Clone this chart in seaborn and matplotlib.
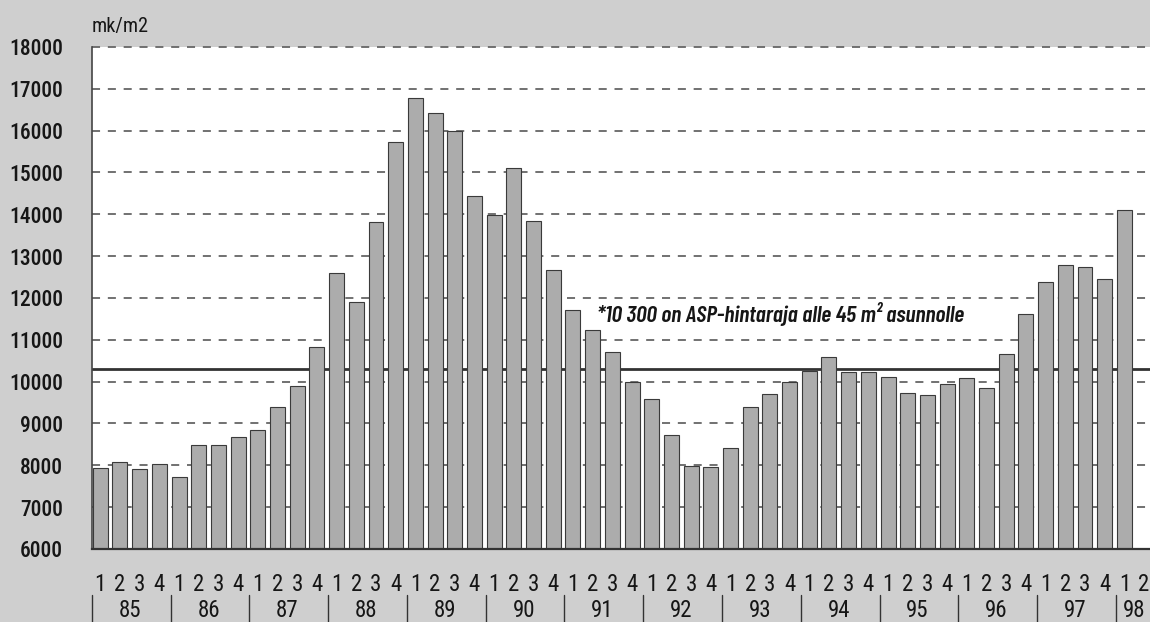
import matplotlib
matplotlib.use("Agg")
import matplotlib.pyplot as plt
from matplotlib import font_manager
import seaborn as sns
import pandas as pd

# ---- data ----
years = ["85", "86", "87", "88", "89", "90", "91", "92", "93", "94", "95", "96", "97", "98"]
quarter_labels = ["1", "2", "3", "4"] * 13 + ["1", "2"]
prices = [7930, 8070, 7900, 8040,
          7730, 8490, 8490, 8680,
          8840, 9390, 9890, 10830,
          12590, 11910, 13820, 15740,
          16790, 16420, 15980, 14440,
          13990, 15100, 13840, 12670,
          11710, 11240, 10720, 9990,
          9590, 8730, 7980, 7960,
          8410, 9390, 9700, 9980,
          10260, 10580, 10220, 10220,
          10100, 9720, 9680, 9940,
          10080, 9850, 10660, 11620,
          12380, 12780, 12750, 12450,
          14100]
asp_limit = 10300
y_ticks = list(range(6000, 18001, 1000))
unit_label = "mk/m2"
note_text = "*10 300 on ASP-hintaraja alle 45 m² asunnolle"

# ---- fonts ----
names = {f.name for f in font_manager.fontManager.ttflist}
def pick(*cands):
    for c in cands:
        if c in names:
            return c
    return "DejaVu Sans"
label_font = pick("Roboto Condensed", "Archivo Narrow", "Liberation Sans")
note_font = pick("Barlow Condensed", "Roboto Condensed", "Liberation Sans")

sns.set_style("white")
plt.rcParams["font.family"] = [label_font, "DejaVu Sans"]
plt.rcParams["lines.scale_dashes"] = False

BG = "#cfcfcf"
BAR = "#acacac"
EDGE = "#3a3a3a"
TXT = "#161616"

fig = plt.figure(figsize=(11.5, 6.22), dpi=100, facecolor=BG)
ax = fig.add_axes([0.08, 0.1174, 0.92, 0.8071])
ax.set_facecolor("white")

n = len(prices)
cats = [f"{years[i // 4]}-{quarter_labels[i]}" for i in range(n)]
df = pd.DataFrame({"q": cats, "v": prices})
sns.barplot(data=df, x="q", y="v", order=cats, color=BAR, saturation=1,
            width=0.76, edgecolor=EDGE, linewidth=0.8, ax=ax, zorder=3)

# grid (dashed)
for yv in y_ticks[1:]:
    ax.axhline(yv, color="#666666", lw=1.3, ls=(0, (5.8, 5.6)), zorder=1,
               clip_on=(yv != y_ticks[-1]))
# ASP limit line
ax.axhline(asp_limit, color="#333333", lw=2.0, zorder=2)

ax.set_ylim(6000, 18000)
ax.set_xlim(-0.42, 53.3)
ax.set_yticks(y_ticks)
ax.set_yticklabels([str(t) for t in y_ticks], fontsize=15.5, color=TXT,
                   fontweight=500)
ax.set_xticks(range(len(quarter_labels)))
ax.set_xticklabels(quarter_labels, fontsize=16.5, color=TXT, fontweight=400)
ax.tick_params(axis="y", length=0, pad=21)
ax.tick_params(axis="x", length=0, pad=17)
ax.set_xlabel("")
ax.set_ylabel("")

for s in ["top", "right"]:
    ax.spines[s].set_visible(False)
ax.spines["left"].set_color("#444444")
ax.spines["left"].set_linewidth(1.2)
ax.spines["bottom"].set_color("#333333")
ax.spines["bottom"].set_linewidth(1.6)
ax.spines["left"].set_zorder(4)
ax.spines["bottom"].set_zorder(4)

# year separators and labels
trans = ax.get_xaxis_transform()
for k, yr in enumerate(years):
    xs = -0.43 + 4 * k
    ax.plot([xs, xs], [-0.092, -0.16], transform=trans, color="#333333",
            lw=1.0, clip_on=False)
    nq = 4 if k < len(years) - 1 else 2
    xc = 4 * k + (nq - 1) / 2
    ax.text(xc, -0.123, yr, transform=trans, ha="center", va="center",
            fontsize=16.5, color=TXT, fontweight=400)

# unit label
ax.text(-0.42, 1.03, unit_label, transform=trans, ha="left", va="baseline",
        fontsize=14.5, color=TXT)

# note
ax.text(25.2, 11430, note_text, ha="left", va="baseline", fontsize=17,
        fontweight=600, fontstyle="italic", color=TXT, zorder=5,
        family=[note_font, "DejaVu Sans"])

fig.savefig("out.png", dpi=100, facecolor=BG)
